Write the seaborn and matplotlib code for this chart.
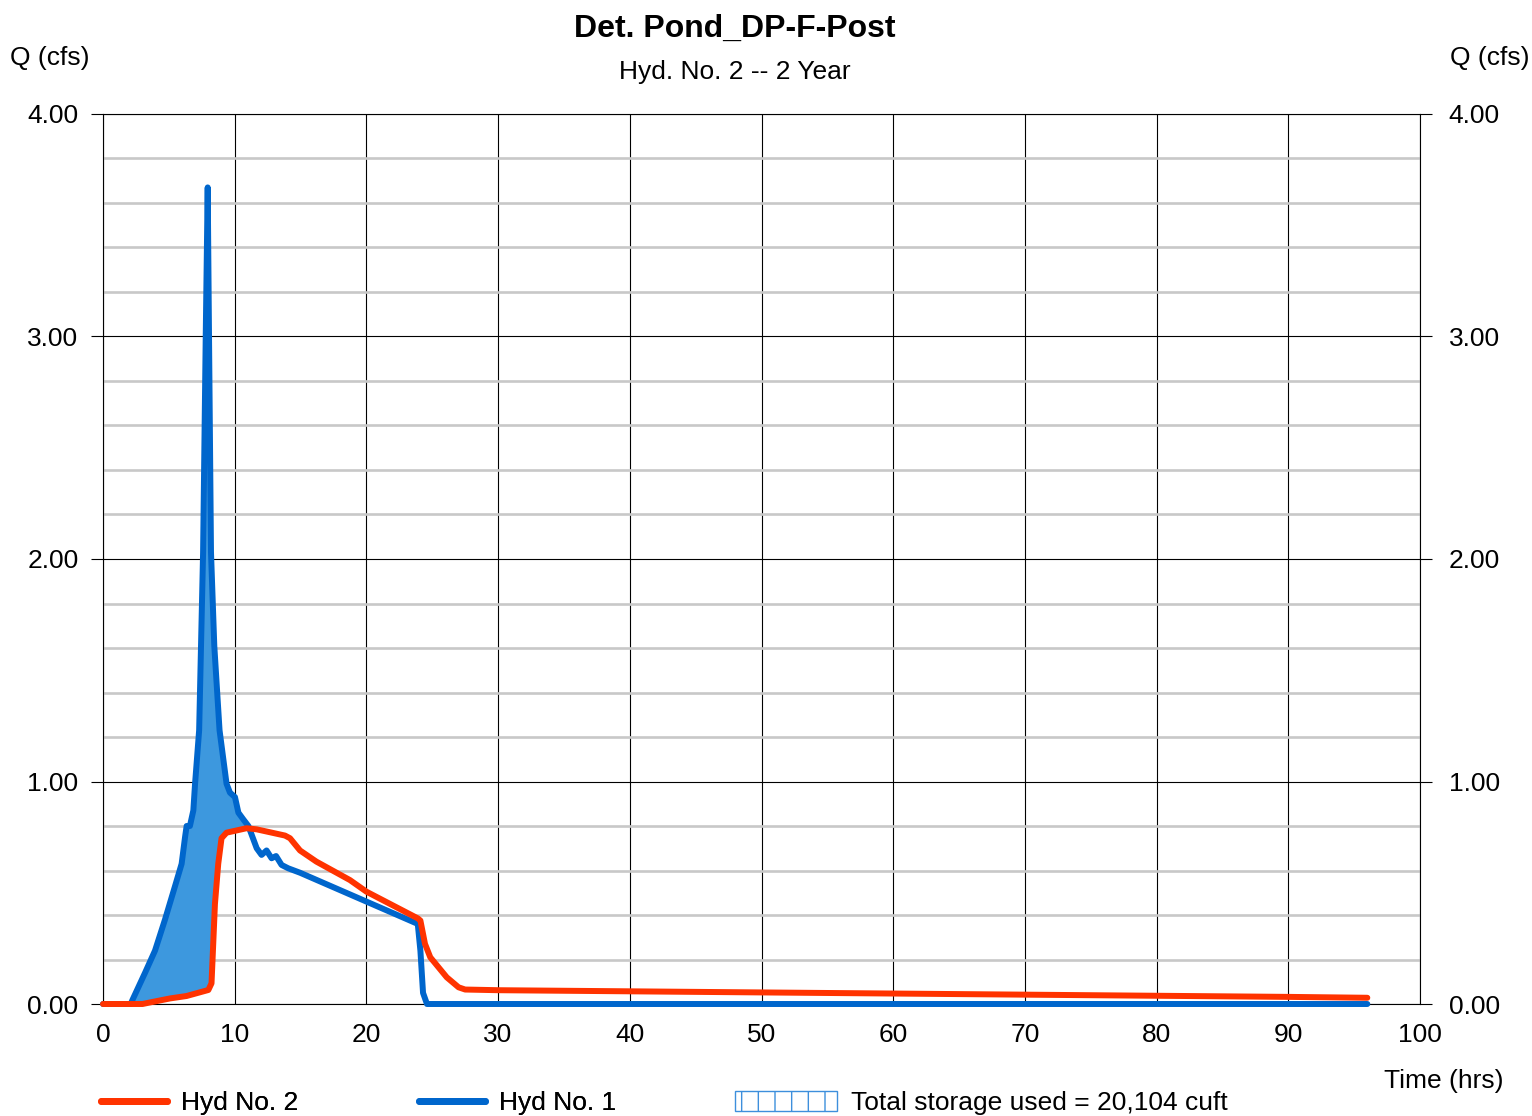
import numpy as np
import pandas as pd
import matplotlib
matplotlib.use("Agg")
import matplotlib.pyplot as plt
import seaborn as sns
from matplotlib.lines import Line2D
from matplotlib.patches import Patch
from matplotlib.ticker import MultipleLocator, FormatStrFormatter

# ---- data ----
inflow_t = [0, 2.1, 2.25, 3.19, 3.95, 4.71, 5.47, 5.97, 6.23, 6.35, 6.6, 6.86, 6.99, 7.3, 7.6,
            7.8, 7.95, 8.05, 8.2, 8.45, 8.85, 9.38, 9.64, 10.02, 10.28, 10.65, 11.04, 11.67,
            12.04, 12.42, 12.8, 13.14, 13.56, 14.06, 14.96, 23.9, 24.1, 24.3, 24.6, 96]
inflow_q = [0, 0, 0.02, 0.14, 0.24, 0.38, 0.53, 0.63, 0.75, 0.80, 0.80, 0.87, 0.99, 1.23, 2.03,
            3.0, 3.67, 3.0, 2.03, 1.61, 1.23, 0.99, 0.95, 0.93, 0.86, 0.83, 0.80, 0.70,
            0.67, 0.69, 0.655, 0.665, 0.625, 0.61, 0.59, 0.36, 0.24, 0.05, 0.0, 0.0]

outflow_t = [0, 3.0, 3.82, 5.09, 6.35, 8.0, 8.24, 8.5, 8.75, 9.0, 9.38, 10.9, 11.67, 13.82,
             14.2, 14.96, 16.2, 18.75, 20.0, 23.9, 24.1, 24.45, 24.85, 26.1, 27.0, 27.5, 30,
             40, 50, 60, 70, 80, 90, 96]
outflow_q = [0, 0, 0.01, 0.025, 0.036, 0.063, 0.093, 0.45, 0.63, 0.745, 0.77, 0.79, 0.785,
             0.757, 0.745, 0.69, 0.64, 0.557, 0.505, 0.385, 0.375, 0.27, 0.21, 0.12, 0.075,
             0.065, 0.062, 0.057, 0.052, 0.047, 0.042, 0.037, 0.032, 0.028]

x_ticks = [0, 10, 20, 30, 40, 50, 60, 70, 80, 90, 100]
y_ticks = [0, 1, 2, 3, 4]

title = "Det. Pond_DP-F-Post"
subtitle = "Hyd. No. 2 -- 2 Year"
label_out = "Hyd No. 2"
label_in = "Hyd No. 1"
label_storage = "Total storage used = 20,104 cuft"

RED = "#ff3300"
BLUE = "#0066cc"
FILL = "#3d98de"

df_in = pd.DataFrame({"t": inflow_t, "q": inflow_q})
df_out = pd.DataFrame({"t": outflow_t, "q": outflow_q})

sns.set_style("ticks")
plt.rcParams["font.family"] = ["Liberation Sans", "DejaVu Sans"]
plt.rcParams["hatch.linewidth"] = 1.0
for k in ["text.color", "axes.labelcolor", "xtick.color", "ytick.color", "axes.edgecolor"]:
    plt.rcParams[k] = "black"

FS = 19

W, H = 1532, 1116
fig = plt.figure(figsize=(W / 100, H / 100), dpi=100)
ax = fig.add_axes([103 / W, 112 / H, 1317 / W, 890 / H])

# storage fill between inflow and outflow
tt = np.union1d(df_in["t"].values, df_out["t"].values)
qi = np.interp(tt, df_in["t"], df_in["q"])
qo = np.interp(tt, df_out["t"], df_out["q"])
ax.fill_between(tt, qo, qi, where=qi >= qo, interpolate=True, color=FILL, lw=0, zorder=2)

sns.lineplot(data=df_in, x="t", y="q", ax=ax, color=BLUE, lw=4.3, sort=False,
             estimator=None, legend=False, zorder=3)
sns.lineplot(data=df_out, x="t", y="q", ax=ax, color=RED, lw=4.3, sort=False,
             estimator=None, legend=False, zorder=4)
for ln in ax.get_lines():
    ln.set_solid_capstyle("round")
    ln.set_solid_joinstyle("round")
    ln.set_clip_on(False)

ax.set_xlim(0, 100)
ax.set_ylim(0, 4)
ax.set_xticks(x_ticks)
ax.set_yticks(y_ticks)
ax.yaxis.set_minor_locator(MultipleLocator(0.2))
ax.yaxis.set_major_formatter(FormatStrFormatter("%.2f"))
ax.set_xlabel("")
ax.set_ylabel("")
ax.set_axisbelow(True)
ax.grid(which="minor", axis="y", color="#c8c8c8", lw=1.9)
ax.grid(which="major", axis="both", color="black", lw=0.8)
for s in ax.spines.values():
    s.set_color("black")
    s.set_linewidth(0.8)

ax.tick_params(axis="x", which="both", length=0, labelsize=FS, pad=14, colors="black")
ax.tick_params(axis="y", which="major", length=8.6, width=0.8, direction="out",
               labelsize=FS, pad=9, left=True, right=False, colors="black")
ax.tick_params(axis="y", which="minor", length=0)

ax2 = ax.twinx()
ax2.set_ylim(ax.get_ylim())
ax2.set_yticks(y_ticks)
ax2.yaxis.set_major_formatter(FormatStrFormatter("%.2f"))
ax2.tick_params(axis="y", which="major", length=8.6, width=0.8, direction="out",
                labelsize=FS, pad=12, colors="black")
ax2.grid(False)
for s in ax2.spines.values():
    s.set_visible(False)

# texts
fig.text(735 / W, 1 - 29 / H, title, ha="center", va="center", fontsize=23, fontweight="bold")
fig.text(735 / W, 1 - 72 / H, subtitle, ha="center", va="center", fontsize=19)
fig.text(10 / W, 1 - 58 / H, "Q (cfs)", ha="left", va="center", fontsize=FS)
fig.text(1529 / W, 1 - 58 / H, "Q (cfs)", ha="right", va="center", fontsize=FS)
fig.text(1504 / W, 1 - 1081 / H, "Time (hrs)", ha="right", va="center", fontsize=FS)

# legends
h1 = [Line2D([], [], color=RED, lw=5, solid_capstyle="round"),
      Line2D([], [], color=BLUE, lw=5, solid_capstyle="round")]
leg1 = fig.legend(h1, [label_out, label_in], loc="center left",
                  bbox_to_anchor=(101 / W, 13 / H), ncol=2, frameon=False, fontsize=FS,
                  handlelength=2.5, handletextpad=0.55, columnspacing=4.55, borderpad=0,
                  borderaxespad=0)
h2 = [Patch(facecolor="white", edgecolor="#3d8fdc", hatch="|", lw=1.0)]
leg2 = fig.legend(h2, [label_storage], loc="center left",
                  bbox_to_anchor=(735 / W, 13 / H), frameon=False, fontsize=FS,
                  handlelength=3.85, handleheight=0.8, handletextpad=0.55, borderpad=0,
                  borderaxespad=0)
fig.add_artist(leg1)

fig.savefig("out.png", dpi=100)
